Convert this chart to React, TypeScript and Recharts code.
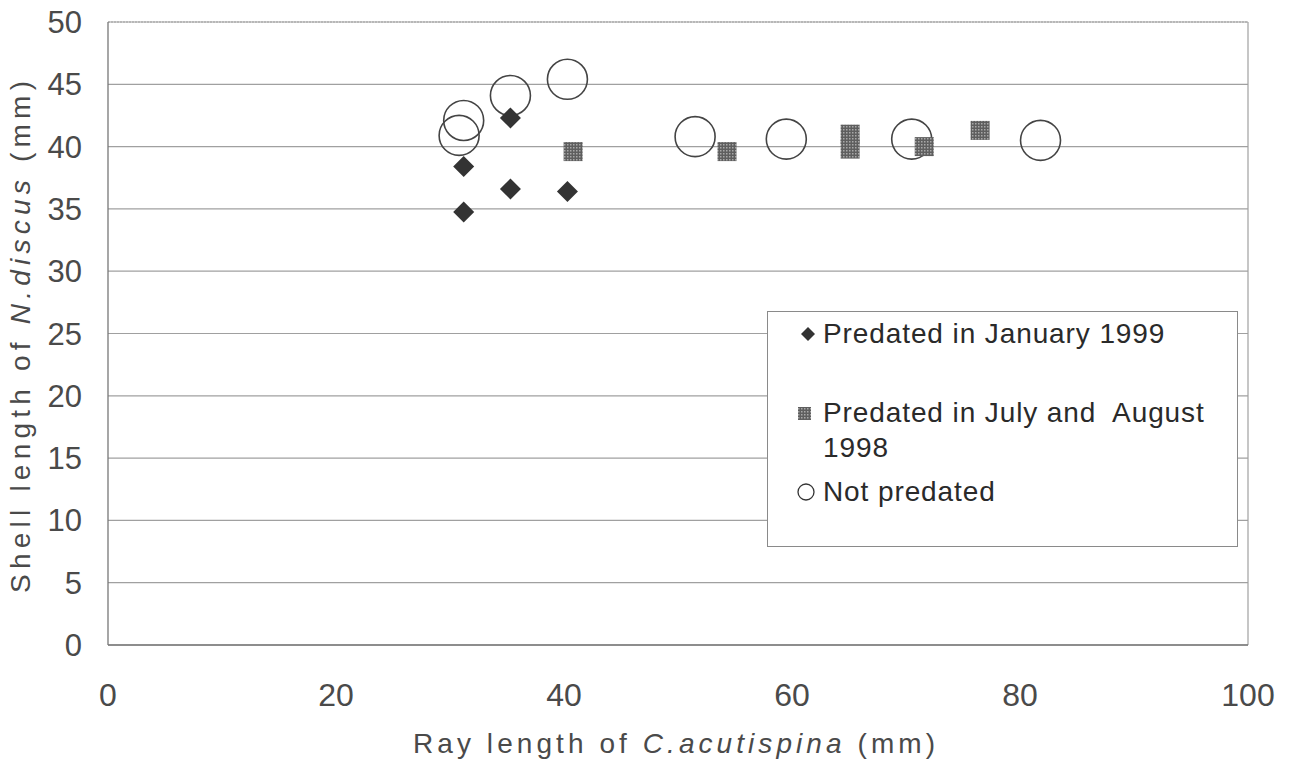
import { CartesianGrid, ReferenceLine, Scatter, ScatterChart, XAxis, YAxis } from 'recharts'

// Predated in January 1999
const januaryX = [31.2, 31.2, 35.3, 35.3, 40.3]
const januaryY = [34.75, 38.4, 36.6, 42.3, 36.4]

// Predated in July and August 1998
const summerX = [40.8, 54.3, 65.1, 65.1, 71.6, 76.5]
const summerY = [39.6, 39.6, 41.0, 39.8, 40.0, 41.3]

// Not predated
const notPredatedX = [30.8, 31.2, 35.3, 40.3, 51.5, 59.5, 70.5, 81.8]
const notPredatedY = [40.9, 42.1, 44.1, 45.4, 40.8, 40.6, 40.6, 40.5]

const xTicks = [0, 20, 40, 60, 80, 100]
const yTicks = [0, 5, 10, 15, 20, 25, 30, 35, 40, 45, 50]

const legendLabels = ['Predated in January 1999', 'Predated in July and  August', '1998', 'Not predated']

const zip = (xs: number[], ys: number[]) => xs.map((x, i) => ({ x, y: ys[i] }))

const january = zip(januaryX, januaryY)
const summer = zip(summerX, summerY)
const notPredated = zip(notPredatedX, notPredatedY)

const FONT = '"Liberation Sans", Arial, sans-serif'
const GRID = '#a0a0a0'
const TEXT = '#4a4a4a'

function Diamond(props: any) {
  const { cx, cy } = props
  const r = 10.5
  return <path d={`M${cx},${cy - r} L${cx + r},${cy} L${cx},${cy + r} L${cx - r},${cy} Z`} fill="#333" />
}

function Square(props: any) {
  const { cx, cy } = props
  const s = 19
  return <rect x={cx - s / 2} y={cy - s / 2} width={s} height={s} fill="url(#dots)" />
}

function Ring(props: any) {
  const { cx, cy } = props
  return <circle cx={cx} cy={cy} r={20} fill="none" stroke="#444" strokeWidth={1.6} />
}

function LegendBox() {
  const row = { position: 'absolute' as const, left: 0, height: 34, display: 'flex', alignItems: 'center' }
  const label = { position: 'absolute' as const, left: 55, fontSize: 28, letterSpacing: 0.9, color: '#2a2a2a', whiteSpace: 'pre' as const, lineHeight: '34px' }
  return (
    <div style={{ position: 'absolute', left: 767, top: 311, width: 471, height: 236, border: '1.5px solid #8a8a8a', background: '#fff', boxSizing: 'border-box', fontFamily: FONT }}>
      <div style={{ ...row, top: 5 }}>
        <svg width={60} height={34}><path d="M40,10 L47,17 L40,24 L33,17 Z" fill="#333" /></svg>
        <span style={label}>{legendLabels[0]}</span>
      </div>
      <div style={{ ...row, top: 84 }}>
        <svg width={60} height={34}>
          <defs>
            <pattern id="dots2" width={3} height={3} patternUnits="userSpaceOnUse">
              <rect width={3} height={3} fill="#5e5e5e" />
              <rect width={1.5} height={1.5} fill="#a8a8a8" />
            </pattern>
          </defs>
          <rect x={30} y={11} width={13} height={13} fill="url(#dots2)" />
        </svg>
        <span style={label}>{legendLabels[1]}</span>
      </div>
      <div style={{ ...row, top: 119 }}>
        <span style={label}>{legendLabels[2]}</span>
      </div>
      <div style={{ ...row, top: 163 }}>
        <svg width={60} height={34}><circle cx={38} cy={17} r={8} fill="none" stroke="#333" strokeWidth={1.3} /></svg>
        <span style={label}>{legendLabels[3]}</span>
      </div>
    </div>
  )
}

function XTitle(props: any) {
  const { viewBox } = props
  const cx = viewBox.x + viewBox.width / 2 - 4
  return (
    <text x={cx} y={753} textAnchor="middle" fontSize={28} fill={TEXT} fontFamily={FONT} textLength={522} lengthAdjust="spacing">
      Ray length of <tspan fontStyle="italic">C.acutispina</tspan> (mm)
    </text>
  )
}

function YTitle() {
  const cy = 337
  const x = 30
  return (
    <text x={x} y={cy} transform={`rotate(-90 ${x} ${cy})`} textAnchor="middle" fontSize={28} fill={TEXT} fontFamily={FONT} textLength={512} lengthAdjust="spacing">
      Shell length of <tspan fontStyle="italic">N.discus</tspan> (mm)
    </text>
  )
}

export default function App() {
  return (
    <div style={{ width: 1293, height: 768, background: '#fff', position: 'relative' }}>
      <style>{'body{margin:0;background:#fff}'}</style>
      <ScatterChart width={1293} height={768} margin={{ top: 22, right: 45, bottom: 63, left: 48 }}>
        <defs>
          <pattern id="dots" width={3} height={3} patternUnits="userSpaceOnUse">
            <rect width={3} height={3} fill="#5e5e5e" />
            <rect width={1.5} height={1.5} fill="#a8a8a8" />
          </pattern>
        </defs>
        <CartesianGrid vertical={false} stroke={GRID} strokeWidth={1.2} />
        <XAxis
          type="number"
          dataKey="x"
          domain={[0, 100]}
          ticks={xTicks}
          height={60}
          axisLine={{ stroke: '#777', strokeWidth: 1.3 }}
          tickLine={false}
          tickSize={0}
          tickMargin={38}
          tick={{ fill: TEXT, fontSize: 32, fontFamily: FONT }}
          label={<XTitle />}
        />
        <YAxis
          type="number"
          dataKey="y"
          domain={[0, 50]}
          ticks={yTicks}
          width={60}
          axisLine={{ stroke: '#777', strokeWidth: 1.3 }}
          tickLine={false}
          tickSize={0}
          tickMargin={26}
          tick={{ fill: TEXT, fontSize: 31, fontFamily: FONT }}
          label={<YTitle />}
        />
        <ReferenceLine x={100} stroke={GRID} strokeWidth={1.2} />
        <ReferenceLine y={50} stroke={GRID} strokeWidth={1.2} strokeDasharray="2 1" />
        <Scatter name="Not predated" data={notPredated} shape={<Ring />} isAnimationActive={false} legendType="circle" />
        <Scatter name="Predated in July and August 1998" data={summer} shape={<Square />} isAnimationActive={false} legendType="square" />
        <Scatter name="Predated in January 1999" data={january} shape={<Diamond />} isAnimationActive={false} legendType="diamond" />
      </ScatterChart>
      <LegendBox />
    </div>
  )
}
